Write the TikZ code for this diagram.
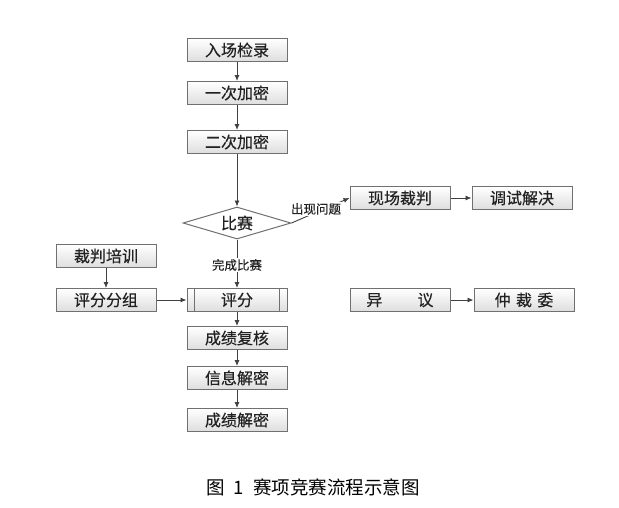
\documentclass[tikz,border=0pt]{standalone}
\usepackage{fontspec}
\setmainfont{Noto Sans CJK SC}
\newfontfamily\boxfont[FakeBold=0.35]{Noto Sans CJK SC}
\usetikzlibrary{arrows.meta,shapes.geometric}
\definecolor{txt}{HTML}{222222}
\definecolor{edge}{HTML}{707070}
\tikzset{
  box/.style={draw=edge, line width=1pt, top color=white, bottom color=black!13,
    minimum width=100pt, minimum height=23pt, inner sep=0pt, text=txt,
    font=\boxfont\fontsize{16pt}{18pt}\selectfont},
  dia/.style={diamond, aspect=3.4, draw=edge, line width=1pt, fill=white,
    minimum width=108pt, minimum height=32pt, inner sep=0pt, text=txt,
    font=\boxfont\fontsize{16pt}{18pt}\selectfont},
  lab/.style={text=txt, font=\boxfont\fontsize{12.5pt}{14pt}\selectfont, inner sep=1pt},
  arr/.style={draw=black!75, line width=0.9pt, -{Latex[length=6pt,width=5pt]}},
}
\begin{document}
\begin{tikzpicture}[x=1pt,y=-1pt]
\useasboundingbox[fill=white] (0,0) rectangle (619,507);
\node[box] (a) at (237,50) {入场检录};
\node[box] (b) at (237,93) {一次加密};
\node[box] (c) at (237,142) {二次加密};
\node[dia] (d) at (237,223) {比赛};
\node[box] (x1) at (400,198) {现场裁判};
\node[box] (x2) at (522,198) {调试解决};
\node[box] (p1) at (106,256) {裁判培训};
\node[box] (p2) at (106,300) {评分分组};
\node[box] (e) at (237,300) {评分};
\draw[edge, line width=0.8pt] ([xshift=8pt]e.north west) -- ([xshift=8pt]e.south west);
\draw[edge, line width=0.8pt] ([xshift=-8pt]e.north east) -- ([xshift=-8pt]e.south east);
\node[box] (y1) at (400,300) {异\hspace{2.2em}议};
\node[box] (y2) at (524,300) {仲\,\,裁\,\,委};
\node[box] (f) at (237,338) {成绩复核};
\node[box] (g) at (237,378) {信息解密};
\node[box] (h) at (237,420) {成绩解密};
\draw[arr] (a) -- (b);
\draw[arr] (b) -- (c);
\draw[arr] (c) -- (d);
\draw[arr] (d.east) -- (x1.west);
\node[lab, fill=white] (q) at (316,209) {出现问题};
\draw[arr] (x1) -- (x2);
\draw[arr] (d) -- (e);
\node[lab, fill=white] (w) at (237,265) {完成比赛};
\draw[arr] (p1) -- (p2);
\draw[arr] (p2) -- (e);
\draw[arr] (y1) -- (y2);
\draw[arr] (e) -- (f);
\draw[arr] (f) -- (g);
\draw[arr] (g) -- (h);
\node[text=black, font=\fontsize{18.5pt}{20pt}\selectfont] (cap) at (313,487) {图\hspace{0.5em}1\hspace{0.5em}赛项竞赛流程示意图};
\end{tikzpicture}
\end{document}
